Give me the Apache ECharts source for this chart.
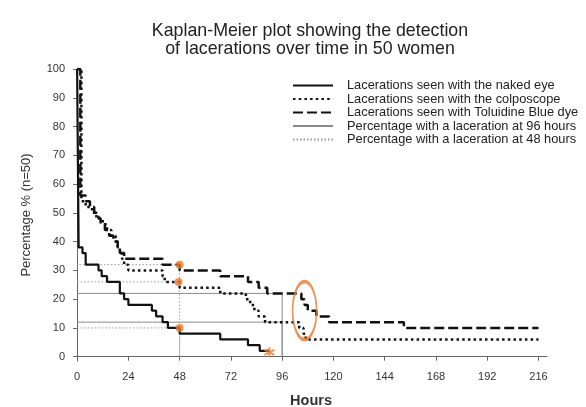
<!DOCTYPE html>
<html>
<head>
<meta charset="utf-8">
<script src="https://cdn.jsdelivr.net/npm/echarts@6/dist/echarts.min.js"></script>
<style>
  html, body { margin: 0; padding: 0; background: #fff; }
  #chart { width: 586px; height: 407px; }
</style>
</head>
<body>
<div id="chart"></div>
<script>
// Kaplan-Meier steps: [hour, percentage still undetected]
const nakedEye = [[0,100],[0.7,38],[2.5,36],[4,32],[10,30],[11.5,28],[14,26],[20,22],[22,20],[24,18],
  [35,16],[37,14],[40,12],[42.5,10],[48,8],[67,6],[80,4],[85.5,2],[90,2]];
const colposcope = [[0,100],[2,54],[4,52],[7,50],[9,48],[12,46],[14,44],[16,42],[18,40],[19,38],[20,36],
  [21,34],[22,32],[24,30],[40,28],[41,26],[48,24],[67,22],[79,20],[81,18],[83,16],[85,14],[88,12],
  [104,10],[106,8],[107,6],[216,6]];
const toluidine = [[0,100],[1.5,56],[4,54],[6,52],[8,50],[10,48],[11,46],[13,44],[15,42],[17,40],[19,38],
  [20,36],[22,34],[40,32],[48,30],[67,28],[80,26],[85,24],[89,22],[105,20],[106.5,18],[108,16],
  [112,14],[118,12],[153,10],[216,10]];

// reference lines
const at96 = [[0,12],[96,12],[96,0],[96,22],[0,22]];
const at48a = [[0,10],[48,10],[48,0],[48,32],[0,32]];
const at48b = [[0,26],[48,26]];

// orange annotations
const dots48 = [[48,32],[47.5,26],[48,10]];
const lastNaked = [[90,1.5]];
const circled = [[106.5,16]];

const xTicks = [0,24,48,72,96,120,144,168,192,216];
const yTicks = [0,10,20,30,40,50,60,70,80,90,100];

const names = [
  'Lacerations seen with the naked eye',
  'Lacerations seen with the colposcope',
  'Lacerations seen with Toluidine Blue dye',
  'Percentage with a laceration at 96 hours',
  'Percentage with a laceration at 48 hours'
];
const orange = '#E8792A';

const chart = echarts.init(document.getElementById('chart'));

const option = {
  animation: false,
  textStyle: { fontFamily: 'Liberation Sans, Arial, sans-serif' },
  title: {
    text: 'Kaplan-Meier plot showing the detection\nof lacerations over time in 50 women',
    left: 305,
    top: 17,
    textAlign: 'center',
    textStyle: { fontSize: 17.8, fontWeight: 'normal', color: '#222', lineHeight: 18 }
  },
  legend: {
    data: names,
    orient: 'vertical',
    left: 287,
    top: 74,
    itemWidth: 40,
    itemHeight: 12,
    itemGap: 0.5,
    itemStyle: { opacity: 0 },
    textStyle: { fontSize: 12.8, color: '#222', padding: [0, 0, 0, 9], lineHeight: 12 }
  },
  grid: { left: 75, right: 39, top: 69, bottom: 46, outerBoundsMode: 'none' },
  xAxis: {
    type: 'value',
    min: -1,
    max: 220,
    name: 'Hours',
    nameLocation: 'middle',
    nameGap: 32,
    nameTextStyle: { fontSize: 14.5, fontWeight: 'bold', color: '#333' },
    axisLine: { lineStyle: { color: '#666' } },
    axisTick: { customValues: xTicks, length: 4, lineStyle: { color: '#666' } },
    axisLabel: { customValues: xTicks, fontSize: 11, color: '#333', margin: 10 },
    splitLine: { show: false }
  },
  yAxis: {
    type: 'value',
    min: -1.5,
    max: 100,
    name: 'Percentage % (n=50)',
    nameLocation: 'middle',
    nameGap: 42,
    nameTextStyle: { fontSize: 13, color: '#333' },
    axisLine: { show: true, lineStyle: { color: '#666' } },
    axisTick: { show: true, customValues: yTicks, length: 4, lineStyle: { color: '#666' } },
    axisLabel: { customValues: yTicks, fontSize: 11, color: '#333', margin: 10 },
    splitLine: { show: false }
  },
  series: [
    {
      name: names[3], type: 'line', data: at96, symbol: 'none', z: 1,
      itemStyle: { color: '#8a8a8a' },
      lineStyle: { color: '#8a8a8a', width: 1 }
    },
    {
      name: names[4], type: 'line', data: at48a, symbol: 'none', z: 1,
      itemStyle: { color: '#9a9a9a' },
      lineStyle: { color: '#9a9a9a', width: 1, type: [1.5, 2] }
    },
    {
      name: names[4], type: 'line', data: at48b, symbol: 'none', z: 1,
      itemStyle: { color: '#9a9a9a' },
      lineStyle: { color: '#9a9a9a', width: 1, type: [1.5, 2] }
    },
    {
      name: names[0], type: 'line', step: 'end', data: nakedEye, symbol: 'none', z: 3,
      itemStyle: { color: '#111' },
      lineStyle: { color: '#111', width: 2.2 }
    },
    {
      name: names[1], type: 'line', step: 'end', data: colposcope, symbol: 'none', z: 3,
      itemStyle: { color: '#111' },
      lineStyle: { color: '#111', width: 2.5, type: [2.5, 3.2] }
    },
    {
      name: names[2], type: 'line', step: 'end', data: toluidine, symbol: 'none', z: 3,
      itemStyle: { color: '#111' },
      lineStyle: { color: '#111', width: 2.5, type: [10, 4] }
    },
    {
      name: 'dots48', type: 'scatter', data: dots48, symbol: 'circle', symbolSize: 8, z: 5,
      itemStyle: { color: orange }
    },
    {
      name: 'lastNaked', type: 'scatter', data: lastNaked, z: 5,
      symbol: 'path://M5,0L5,10M0.7,2.5L9.3,7.5M0.7,7.5L9.3,2.5',
      symbolSize: 10,
      itemStyle: { color: 'none', borderColor: orange, borderWidth: 2 }
    },
    {
      name: 'circled', type: 'scatter', data: circled, symbol: 'circle', symbolSize: [24, 58], z: 5,
      itemStyle: { color: 'rgba(0,0,0,0)', borderColor: orange, borderWidth: 2.5 }
    }
  ]
};

chart.setOption(option);
</script>
</body>
</html>
